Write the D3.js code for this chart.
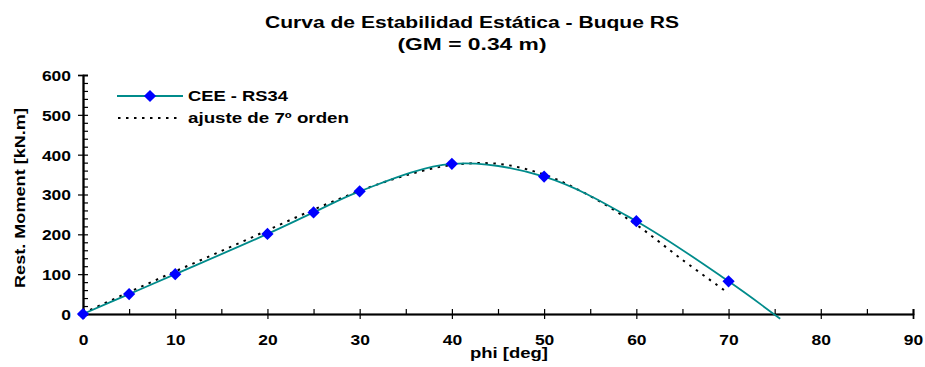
<!DOCTYPE html>
<html>
<head>
<meta charset="utf-8">
<script src="https://cdn.jsdelivr.net/npm/d3@7"></script>
<style>
  body { margin: 0; background: #fff; }
  svg text { font-family: "Liberation Sans", Arial, sans-serif; font-weight: bold; fill: #000; }
</style>
</head>
<body>
<svg id="chart" width="925" height="367"></svg>
<script>
// Heel angles (deg) and righting moments (kN.m) of the measured curve
const phi = [0, 5, 10, 20, 25, 30, 40, 50, 60, 70];
const moment = [0, 50, 100, 201, 255, 308, 377, 345, 233, 82];
// Smoothed line continues to the angle of vanishing stability
const phiTail = [75.6];
const momentTail = [-12];
// 7th-order polynomial fit, sampled
const phiFit = [0, 5, 10, 15, 20, 25, 30, 35, 40, 45, 50, 55, 60, 65, 70];
const momentFit = [2, 55, 107, 158, 210, 262, 309, 348, 374, 377, 350, 296, 224, 136, 52];
// Axis ticks
const xTicks = [0, 10, 20, 30, 40, 50, 60, 70, 80, 90];
const yTicks = [0, 100, 200, 300, 400, 500, 600];
const titleLines = ["Curva de Estabilidad Estática - Buque RS", "(GM = 0.34 m)"];
const seriesNames = ["CEE - RS34", "ajuste de 7º orden"];

const svg = d3.select("#chart");
const x = d3.scaleLinear().domain([0, 90]).range([83, 913]);
const y = d3.scaleLinear().domain([0, 600]).range([314, 75]);

// The chart font is set wide; stretch each label to its width
const wide = (sel, w) => sel.attr("textLength", w).attr("lengthAdjust", "spacingAndGlyphs");
const digitWidth = 9.7;

// Title
svg.selectAll("text.title").data(titleLines).join("text")
  .attr("class", "title")
  .attr("x", 472).attr("y", (d, i) => 28 + i * 22)
  .attr("text-anchor", "middle")
  .style("font-size", "16px")
  .call(wide, (d, i) => i === 0 ? 414 : 149)
  .text(d => d);

// Axes
const xAxisMinor = d3.axisTop(x).tickValues(d3.range(5, 90, 10)).tickSize(5).tickFormat("");
const xAxis = d3.axisBottom(x).tickValues(xTicks).tickSize(5).tickFormat(d3.format("d"));
const yAxisMinor = d3.axisRight(y).tickValues(d3.range(0, 601, 20).filter(v => v % 100)).tickSize(5).tickFormat("");
const yAxis = d3.axisLeft(y).tickValues(yTicks).tickSize(5).tickFormat(d3.format("d"));

const gx = svg.append("g").attr("transform", `translate(0,${y(0)})`);
gx.call(xAxis);
gx.append("g").call(xAxisMinor);
gx.append("g").call(d3.axisTop(x).tickValues(xTicks).tickSize(5).tickFormat(""));

const gy = svg.append("g").attr("transform", `translate(${x(0)},0)`);
gy.call(yAxis);
gy.append("g").call(yAxisMinor);
gy.append("g").call(d3.axisRight(y).tickValues(yTicks).tickSize(5).tickFormat(""));

svg.selectAll(".domain").attr("stroke", "#000").attr("stroke-width", 1.6);
svg.selectAll(".tick line").attr("stroke", "#000").attr("stroke-width", 1.2);
svg.selectAll(".tick text")
  .style("font-size", "15px").style("font-family", "Liberation Sans, Arial, sans-serif").style("font-weight", "bold")
  .each(function (d) { wide(d3.select(this), String(d).length * digitWidth); });
gx.selectAll(".tick text").attr("dy", 0).attr("y", 31);
gy.selectAll(".tick text").attr("x", -12).attr("dy", "0.36em");

// Axis titles
svg.append("text").attr("x", 509).attr("y", 358).attr("text-anchor", "middle")
  .style("font-size", "15px").call(wide, 78).text("phi [deg]");
svg.append("text").attr("transform", "translate(25,198) rotate(-90)").attr("text-anchor", "middle")
  .style("font-size", "15px").call(wide, 180).text("Rest. Moment [kN.m]");

// Series
const teal = "#008B8B";
const line = d3.line().x(d => x(d[0])).y(d => y(d[1])).curve(d3.curveCatmullRom.alpha(0.5));
const fitLine = d3.line().x(d => x(d[0])).y(d => y(d[1])).curve(d3.curveCatmullRom.alpha(0.5));

const fitPts = phiFit.map((p, i) => [p, momentFit[i]]);
svg.append("path").datum(fitPts).attr("d", fitLine)
  .attr("fill", "none").attr("stroke", "#000").attr("stroke-width", 2)
  .attr("stroke-dasharray", "2.5,5.5");

const linePts = phi.map((p, i) => [p, moment[i]]).concat(phiTail.map((p, i) => [p, momentTail[i]]));
svg.append("path").datum(linePts).attr("d", line)
  .attr("fill", "none").attr("stroke", teal).attr("stroke-width", 1.8);

const diamond = d3.symbol().type(d3.symbolDiamond2).size(95);
svg.selectAll("path.mk").data(phi.map((p, i) => [p, moment[i]])).join("path")
  .attr("class", "mk").attr("d", diamond)
  .attr("transform", d => `translate(${x(d[0])},${y(d[1])})`)
  .attr("fill", "#0000FF");

// Legend
const lg = svg.append("g");
lg.append("line").attr("x1", 117).attr("x2", 183).attr("y1", 96).attr("y2", 96)
  .attr("stroke", teal).attr("stroke-width", 1.8);
lg.append("path").attr("d", diamond).attr("transform", "translate(150,96)").attr("fill", "#0000FF");
lg.append("line").attr("x1", 118).attr("x2", 181).attr("y1", 118).attr("y2", 118)
  .attr("stroke", "#000").attr("stroke-width", 2).attr("stroke-dasharray", "2.5,5.5");
lg.selectAll("text").data(seriesNames).join("text")
  .attr("x", 188).attr("y", (d, i) => 96 + i * 22).attr("dy", "0.36em")
  .style("font-size", "15px").call(wide, (d, i) => i === 0 ? 100 : 161).text(d => d);
</script>
</body>
</html>
